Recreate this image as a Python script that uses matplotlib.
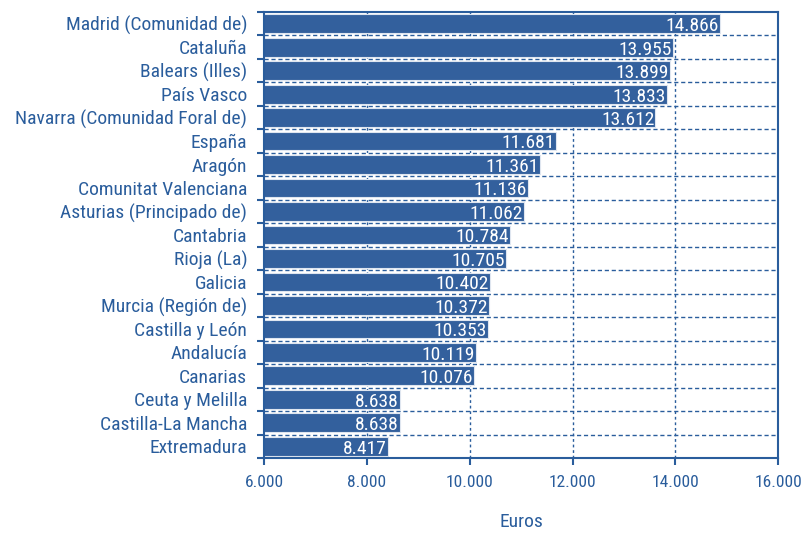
import matplotlib
matplotlib.use("Agg")
import matplotlib.pyplot as plt
import numpy as np

plt.rcParams['font.family'] = ['Roboto Condensed', 'DejaVu Sans']

# Data
regions = ["Madrid (Comunidad de)", "Cataluña", "Balears (Illes)", "País Vasco",
           "Navarra (Comunidad Foral de)", "España", "Aragón", "Comunitat Valenciana",
           "Asturias (Principado de)", "Cantabria", "Rioja (La)", "Galicia",
           "Murcia (Región de)", "Castilla y León", "Andalucía", "Canarias",
           "Ceuta y Melilla", "Castilla-La Mancha", "Extremadura"]
values = [14866, 13955, 13899, 13833, 13612, 11681, 11361, 11136, 11062, 10784,
          10705, 10402, 10372, 10353, 10119, 10076, 8638, 8638, 8417]
xticks = [6000, 8000, 10000, 12000, 14000, 16000]

BLUE = "#33609d"
TEXT = "#2a5d9c"

def fmt(v):
    return f"{v:,}".replace(",", ".")

fig = plt.figure(figsize=(8.06, 5.33), dpi=100)
ax = fig.add_axes([0.3275, 0.1407, 0.638, 0.8368])

y = np.arange(len(regions))
ax.barh(y, values, height=0.8, left=0, color=BLUE, edgecolor="#dfe6f0", linewidth=0.8, zorder=2)

for yi, v in zip(y, values):
    ax.text(v - 20, yi + 0.1, fmt(v), ha="right", va="center", color="white", fontsize=14, zorder=3)

ax.set_xlim(6000, 16000)
ax.set_ylim(len(regions) - 0.5, -0.5)

ax.set_xticks(xticks)
ax.set_xticklabels([fmt(t) for t in xticks], color=TEXT, fontsize=12.5)
ax.set_yticks(y)
ax.set_yticklabels(regions, color=TEXT, fontsize=14)
ax.tick_params(axis="y", length=0, pad=12)
ax.tick_params(axis="x", length=5, width=1.5, color=TEXT, pad=7)

# boundary ticks on y axis
ax.set_yticks(np.arange(len(regions) + 1) - 0.5, minor=True)
ax.tick_params(axis="y", which="minor", length=5, width=1.5, color=TEXT)

for b in np.arange(1, len(regions)) - 0.5:
    ax.axhline(b, color=TEXT, linestyle=(0, (3, 2)), linewidth=1, zorder=1.5)
for t in xticks[1:-1]:
    ax.axvline(t, color=TEXT, linestyle=(0, (2, 2)), linewidth=1, zorder=1.5)

for s in ax.spines.values():
    s.set_color(TEXT)
    s.set_linewidth(1.5)

ax.set_xlabel("Euros", color=TEXT, fontsize=14, labelpad=17)

fig.savefig("out.png", dpi=100)
